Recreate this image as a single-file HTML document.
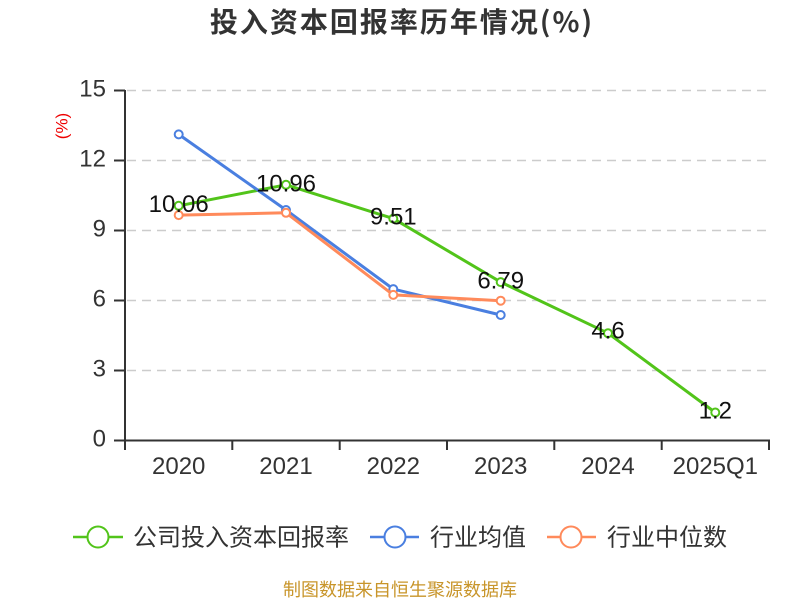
<!DOCTYPE html>
<html>
<head>
<meta charset="utf-8">
<style>
  html, body { margin: 0; padding: 0; background: #fff; }
  svg { display: block; }
  text { font-family: "Liberation Sans", "Noto Sans CJK SC", sans-serif; }
</style>
</head>
<body>
<svg width="800" height="600" viewBox="0 0 800 600" xmlns="http://www.w3.org/2000/svg">
  <rect width="800" height="600" fill="#fff"/>
  <!-- Title -->
  <text x="402" y="32" text-anchor="middle" font-size="28" font-weight="bold" fill="#333" letter-spacing="2" style="font-family:'Noto Sans CJK SC','Liberation Sans',sans-serif;">投入资本回报率历年情况(%)</text>

  <!-- unit label -->
  <text transform="translate(62,126) rotate(-90)" text-anchor="middle" dominant-baseline="central" font-size="17" fill="#e00">(%)</text>

  <!-- gridlines -->
  <g stroke="#cccccc" stroke-width="1.5" stroke-dasharray="9,6">
    <line x1="127" y1="90.5" x2="769" y2="90.5"/>
    <line x1="127" y1="160.5" x2="769" y2="160.5"/>
    <line x1="127" y1="230.5" x2="769" y2="230.5"/>
    <line x1="127" y1="300.5" x2="769" y2="300.5"/>
    <line x1="127" y1="370.5" x2="769" y2="370.5"/>
  </g>

  <!-- axes -->
  <g stroke="#333" stroke-width="2" fill="none">
    <line x1="125" y1="90" x2="125" y2="441"/>
    <line x1="124" y1="440.5" x2="770" y2="440.5"/>
    <line x1="114" y1="90.5" x2="125" y2="90.5"/>
    <line x1="114" y1="160.5" x2="125" y2="160.5"/>
    <line x1="114" y1="230.5" x2="125" y2="230.5"/>
    <line x1="114" y1="300.5" x2="125" y2="300.5"/>
    <line x1="114" y1="370.5" x2="125" y2="370.5"/>
    <line x1="114" y1="440.5" x2="125" y2="440.5"/>
    <line x1="125" y1="440" x2="125" y2="450"/>
    <line x1="232.3" y1="440" x2="232.3" y2="450"/>
    <line x1="339.7" y1="440" x2="339.7" y2="450"/>
    <line x1="447" y1="440" x2="447" y2="450"/>
    <line x1="554.3" y1="440" x2="554.3" y2="450"/>
    <line x1="661.7" y1="440" x2="661.7" y2="450"/>
    <line x1="769" y1="440" x2="769" y2="450"/>
  </g>

  <!-- y labels -->
  <g font-size="24" fill="#333" text-anchor="end">
    <text x="106" y="96.5">15</text>
    <text x="106" y="166.5">12</text>
    <text x="106" y="236.5">9</text>
    <text x="106" y="306.5">6</text>
    <text x="106" y="376.5">3</text>
    <text x="106" y="446.5">0</text>
  </g>

  <!-- x labels -->
  <g font-size="24" fill="#333" text-anchor="middle">
    <text x="178.7" y="474">2020</text>
    <text x="286" y="474">2021</text>
    <text x="393.3" y="474">2022</text>
    <text x="500.7" y="474">2023</text>
    <text x="608" y="474">2024</text>
    <text x="715.3" y="474">2025Q1</text>
  </g>

  <!-- green series -->
  <polyline fill="none" stroke="#52c41a" stroke-width="3" stroke-linejoin="round"
    points="178.7,205.8 286,184.8 393.3,218.6 500.7,282.1 608,333.2 715.3,412.5"/>
  <g fill="#fff" stroke="#52c41a" stroke-width="2">
    <circle cx="178.7" cy="205.8" r="4"/>
    <circle cx="286" cy="184.8" r="4"/>
    <circle cx="393.3" cy="218.6" r="4"/>
    <circle cx="500.7" cy="282.1" r="4"/>
    <circle cx="608" cy="333.2" r="4"/>
    <circle cx="715.3" cy="412.5" r="4"/>
  </g>

  <!-- blue series -->
  <polyline fill="none" stroke="#4a7fe0" stroke-width="3" stroke-linejoin="round"
    points="178.7,134.4 286,210 393.3,289.1 500.7,315"/>
  <g fill="#fff" stroke="#4a7fe0" stroke-width="2">
    <circle cx="178.7" cy="134.4" r="4"/>
    <circle cx="286" cy="210" r="4"/>
    <circle cx="393.3" cy="289.1" r="4"/>
    <circle cx="500.7" cy="315" r="4"/>
  </g>

  <!-- orange series -->
  <polyline fill="none" stroke="#ff8a5b" stroke-width="3" stroke-linejoin="round"
    points="178.7,215.1 286,212.8 393.3,294.9 500.7,300.7"/>
  <g fill="#fff" stroke="#ff8a5b" stroke-width="2">
    <circle cx="178.7" cy="215.1" r="4"/>
    <circle cx="286" cy="212.8" r="4"/>
    <circle cx="393.3" cy="294.9" r="4"/>
    <circle cx="500.7" cy="300.7" r="4"/>
  </g>

  <!-- data labels -->
  <g font-size="24" fill="#111" text-anchor="middle">
    <text x="178.7" y="212">10.06</text>
    <text x="286" y="191.5">10.96</text>
    <text x="393.3" y="224.5">9.51</text>
    <text x="500.7" y="288.3">6.79</text>
    <text x="608" y="338.5">4.6</text>
    <text x="715.3" y="418.5">1.2</text>
  </g>

  <!-- legend -->
  <g style="font-family:'Noto Sans CJK SC','Liberation Sans',sans-serif;">
    <line x1="73" y1="537" x2="123" y2="537" stroke="#52c41a" stroke-width="2.5"/>
    <circle cx="98" cy="537" r="10.5" fill="#fff" stroke="#52c41a" stroke-width="2"/>
    <text x="133" y="545.5" font-size="24" fill="#333">公司投入资本回报率</text>

    <line x1="370" y1="537" x2="419" y2="537" stroke="#4a7fe0" stroke-width="2.5"/>
    <circle cx="395" cy="537" r="10.5" fill="#fff" stroke="#4a7fe0" stroke-width="2"/>
    <text x="430" y="545.5" font-size="24" fill="#333">行业均值</text>

    <line x1="547" y1="537" x2="596" y2="537" stroke="#ff8a5b" stroke-width="2.5"/>
    <circle cx="571" cy="537" r="10.5" fill="#fff" stroke="#ff8a5b" stroke-width="2"/>
    <text x="607" y="545.5" font-size="24" fill="#333">行业中位数</text>
  </g>

  <!-- source -->
  <text x="400" y="596" text-anchor="middle" font-size="18" fill="#c8952a" style="font-family:'Noto Sans CJK SC','Liberation Sans',sans-serif;">制图数据来自恒生聚源数据库</text>
</svg>
</body>
</html>
